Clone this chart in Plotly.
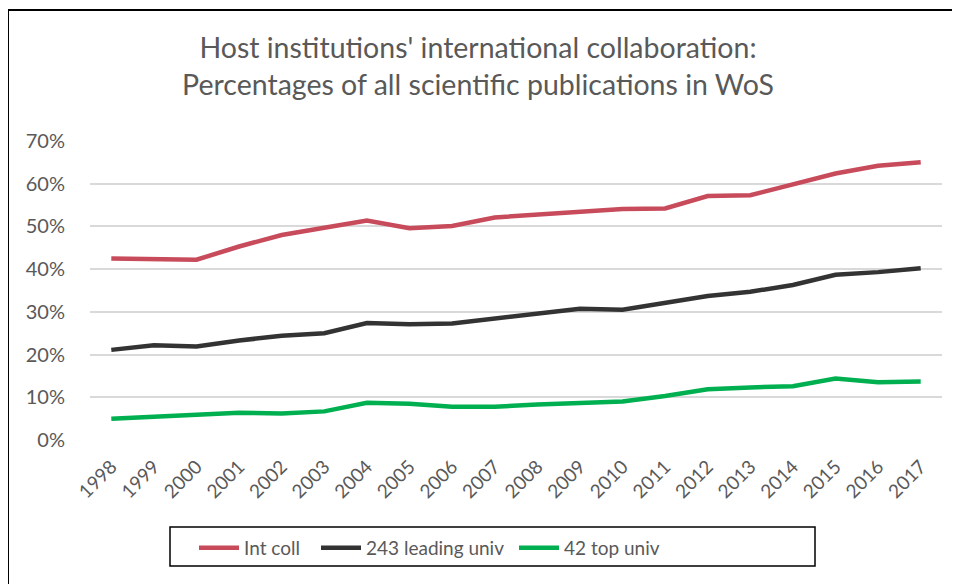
import plotly.graph_objects as go

years = [str(y) for y in range(1998, 2018)]
int_coll = [42.5, 42.4, 42.2, 45.3, 48.0, 49.7, 51.4, 49.6, 50.1, 52.1,
            52.7, 53.4, 54.1, 54.2, 57.1, 57.3, 59.8, 62.4, 64.2, 65.0]
leading_243 = [21.1, 22.2, 21.9, 23.3, 24.4, 25.0, 27.4, 27.1, 27.3, 28.5,
               29.7, 30.7, 30.5, 32.2, 33.7, 34.7, 36.3, 38.7, 39.3, 40.2]
top_42 = [5.0, 5.4, 6.0, 6.4, 6.2, 6.7, 8.7, 8.5, 7.8, 7.8,
          8.3, 8.7, 9.0, 10.3, 11.9, 12.3, 12.6, 14.4, 13.5, 13.7]

series_names = ["Int coll", "243 leading univ", "42 top univ"]
series_colors = ["#C84B5B", "#333333", "#00B050"]
y_ticks = [0, 10, 20, 30, 40, 50, 60, 70]
y_tick_labels = ["0%", "10%", "20%", "30%", "40%", "50%", "60%", "70%"]

FONT = "Lato"
GREY = "#595959"

# The page body adds an 8px offset; work in figure coords (screen - 8).
OFF = 8
L = 90 - OFF
T = 141 - OFF
R = 960 - (942 - OFF)
B = 584 - (440 - OFF)
W, H = 960 - L - R, 584 - T - B

def px(xs):
    return (xs - OFF - L) / W

def py(ys):
    return (584 - B - (ys - OFF)) / H

legend_ids = ["legend", "legend2", "legend3"]
legend_x = [194, 316, 514]   # screen x of each legend entry

fig = go.Figure()
for name, vals, col, lid in zip(series_names, [int_coll, leading_243, top_42],
                                series_colors, legend_ids):
    fig.add_trace(go.Scatter(x=years, y=vals, name=name, mode="lines",
                             line=dict(color=col, width=4.5), legend=lid,
                             showlegend=True))

legend_style = dict(orientation="h", xanchor="left", yanchor="top",
                    y=py(529), borderwidth=0, bgcolor="rgba(0,0,0,0)",
                    font=dict(size=19, color=GREY, family=FONT), itemwidth=40)

fig.update_layout(
    width=960, height=584,
    showlegend=True,
    margin=dict(l=L, r=R, t=T, b=B, autoexpand=False),
    paper_bgcolor="white", plot_bgcolor="white",
    font=dict(family=FONT, color=GREY),
    title=dict(text="Host institutions' international collaboration:<br>Percentages of all scientific publications in WoS",
               x=px(478), xref="paper", xanchor="center",
               y=1 - 50 / 584, yanchor="top",
               font=dict(size=28.5, color=GREY, family=FONT)),
    xaxis=dict(type="category", tickangle=-45, showgrid=False, showline=False,
               range=[-0.5, len(years) - 0.5], automargin=False,
               tickfont=dict(size=19, color=GREY), ticks="",
               ticklabelstandoff=11),
    yaxis=dict(range=[0, 70], tickvals=y_ticks, ticktext=y_tick_labels,
               showgrid=True, gridcolor="#D9D9D9", gridwidth=1.5,
               zeroline=False, showline=False, ticks="", automargin=False,
               tickfont=dict(size=20, color=GREY), ticklabelstandoff=24),
    legend=dict(x=px(legend_x[0]), **legend_style),
    legend2=dict(x=px(legend_x[1]), **legend_style),
    legend3=dict(x=px(legend_x[2]), **legend_style),
    shapes=[
        dict(type="line", xref="paper", yref="paper",
             x0=px(8), x1=px(990), y0=py(10), y1=py(10),
             line=dict(color="black", width=2)),
        dict(type="line", xref="paper", yref="paper",
             x0=px(8), x1=px(8), y0=py(10), y1=py(620),
             line=dict(color="black", width=2)),
        dict(type="rect", xref="paper", yref="paper",
             x0=px(170), x1=px(815), y0=py(527), y1=py(566),
             line=dict(color="black", width=1.5)),
    ],
)

fig.write_html("out.html")
